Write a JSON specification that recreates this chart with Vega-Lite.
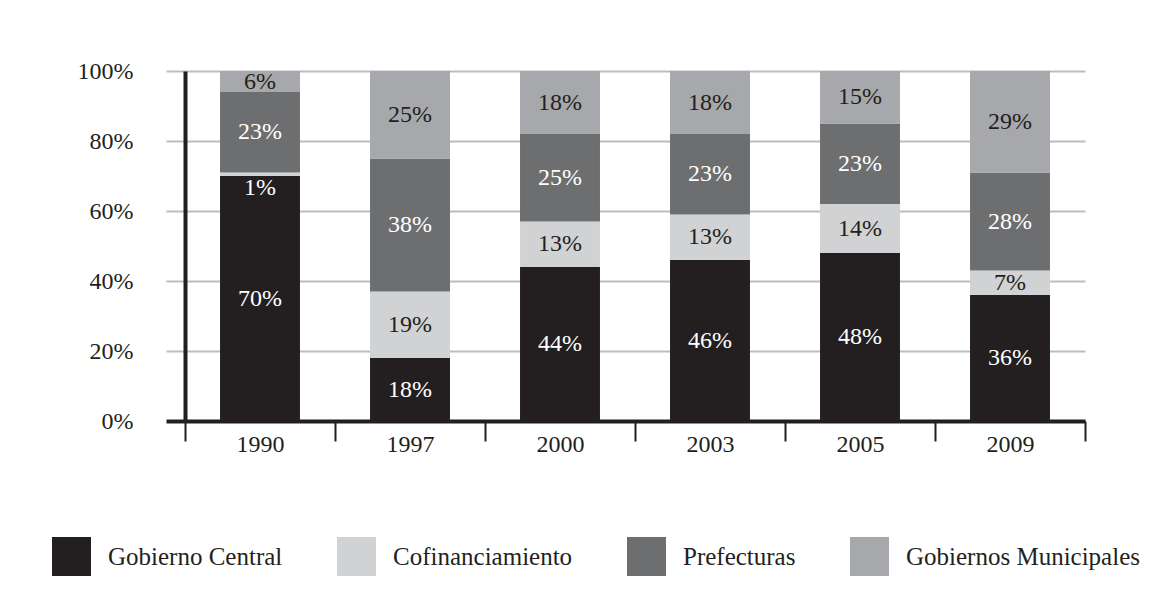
{
  "$schema": "https://vega.github.io/schema/vega-lite/v6.json",
  "width": 900,
  "height": 350,
  "autosize": {"type": "none"},
  "padding": {"left": 185, "top": 71, "right": 66, "bottom": 192},
  "background": "white",
  "config": {"view": {"stroke": null}, "font": "Liberation Serif"},
  "data": {
    "values": [
      {"anio": "1990", "serie": "Gobierno Central", "valor": 70},
      {"anio": "1990", "serie": "Cofinanciamiento", "valor": 1},
      {"anio": "1990", "serie": "Prefecturas", "valor": 23},
      {"anio": "1990", "serie": "Gobiernos Municipales", "valor": 6},
      {"anio": "1997", "serie": "Gobierno Central", "valor": 18},
      {"anio": "1997", "serie": "Cofinanciamiento", "valor": 19},
      {"anio": "1997", "serie": "Prefecturas", "valor": 38},
      {"anio": "1997", "serie": "Gobiernos Municipales", "valor": 25},
      {"anio": "2000", "serie": "Gobierno Central", "valor": 44},
      {"anio": "2000", "serie": "Cofinanciamiento", "valor": 13},
      {"anio": "2000", "serie": "Prefecturas", "valor": 25},
      {"anio": "2000", "serie": "Gobiernos Municipales", "valor": 18},
      {"anio": "2003", "serie": "Gobierno Central", "valor": 46},
      {"anio": "2003", "serie": "Cofinanciamiento", "valor": 13},
      {"anio": "2003", "serie": "Prefecturas", "valor": 23},
      {"anio": "2003", "serie": "Gobiernos Municipales", "valor": 18},
      {"anio": "2005", "serie": "Gobierno Central", "valor": 48},
      {"anio": "2005", "serie": "Cofinanciamiento", "valor": 14},
      {"anio": "2005", "serie": "Prefecturas", "valor": 23},
      {"anio": "2005", "serie": "Gobiernos Municipales", "valor": 15},
      {"anio": "2009", "serie": "Gobierno Central", "valor": 36},
      {"anio": "2009", "serie": "Cofinanciamiento", "valor": 7},
      {"anio": "2009", "serie": "Prefecturas", "valor": 28},
      {"anio": "2009", "serie": "Gobiernos Municipales", "valor": 29}
    ]
  },
  "transform": [
    {"calculate": "indexof(['Gobierno Central','Cofinanciamiento','Prefecturas','Gobiernos Municipales'], datum.serie)", "as": "orden"},
    {"stack": "valor", "groupby": ["anio"], "sort": [{"field": "orden", "order": "ascending"}], "as": ["v0", "v1"]},
    {"calculate": "(datum.v0 + datum.v1) / 2", "as": "vm"},
    {"calculate": "datum.valor + '%'", "as": "etiqueta"}
  ],
  "layer": [
    {
      "mark": {"type": "bar", "width": {"band": 0.533}},
      "encoding": {
        "x": {
          "field": "anio",
          "type": "nominal",
          "scale": {"paddingInner": 0, "paddingOuter": 0},
          "axis": {
            "title": null,
            "tickBand": "extent",
            "tickSize": 20,
            "tickWidth": 2,
            "tickColor": "#231f20",
            "domainColor": "#231f20",
            "domainWidth": 4,
            "labelAngle": 0,
            "labelFontSize": 24,
            "labelFont": "Liberation Serif",
            "labelPadding": -9,
            "labelColor": "#231f20",
            "grid": false
          }
        },
        "y": {
          "field": "v0",
          "type": "quantitative",
          "scale": {"domain": [0, 100]},
          "axis": {
            "values": [0, 20, 40, 60, 80, 100],
            "labelExpr": "datum.value + '%'",
            "title": null,
            "grid": true,
            "gridColor": "#bcbdc0",
            "gridWidth": 2,
            "tickSize": 19,
            "tickColor": {"condition": {"test": "datum.value === 0", "value": "#231f20"}, "value": "#bcbdc0"},
            "tickWidth": {"condition": {"test": "datum.value === 0", "value": 4}, "value": 2},
            "domainColor": "#231f20",
            "domainWidth": 4,
            "labelFontSize": 24,
            "labelFont": "Liberation Serif",
            "labelPadding": 33,
            "labelColor": "#231f20"
          }
        },
        "y2": {"field": "v1"},
        "color": {
          "field": "serie",
          "type": "nominal",
          "scale": {
            "domain": ["Gobierno Central", "Cofinanciamiento", "Prefecturas", "Gobiernos Municipales"],
            "range": ["#231f20", "#d1d2d4", "#6d6e70", "#a7a8ab"]
          },
          "legend": {
            "orient": "none",
            "legendX": -133,
            "legendY": 466,
            "direction": "horizontal",
            "title": null,
            "symbolType": "square",
            "symbolSize": 1521,
            "symbolStrokeWidth": 0,
            "symbolOpacity": 1,
            "labelFontSize": 25,
            "labelFont": "Liberation Serif",
            "labelOffset": 17,
            "columnPadding": 54,
            "labelColor": "#231f20",
            "labelLimit": 400,
            "padding": 0
          }
        }
      }
    },
    {
      "transform": [{"filter": "!(datum.anio == '1990' && datum.serie == 'Cofinanciamiento')"}],
      "mark": {"type": "text", "fontSize": 24, "font": "Liberation Serif", "baseline": "middle"},
      "encoding": {
        "x": {"field": "anio", "type": "nominal"},
        "y": {"field": "vm", "type": "quantitative"},
        "text": {"field": "etiqueta"},
        "color": {
          "condition": {"test": "datum.serie == 'Gobierno Central' || datum.serie == 'Prefecturas'", "value": "#ffffff"},
          "value": "#231f20"
        }
      }
    },
    {
      "transform": [{"filter": "datum.anio == '1990' && datum.serie == 'Cofinanciamiento'"}],
      "mark": {"type": "text", "fontSize": 24, "font": "Liberation Serif", "baseline": "middle", "dy": 14, "color": "#ffffff"},
      "encoding": {
        "x": {"field": "anio", "type": "nominal"},
        "y": {"field": "vm", "type": "quantitative"},
        "text": {"field": "etiqueta"}
      }
    }
  ]
}
